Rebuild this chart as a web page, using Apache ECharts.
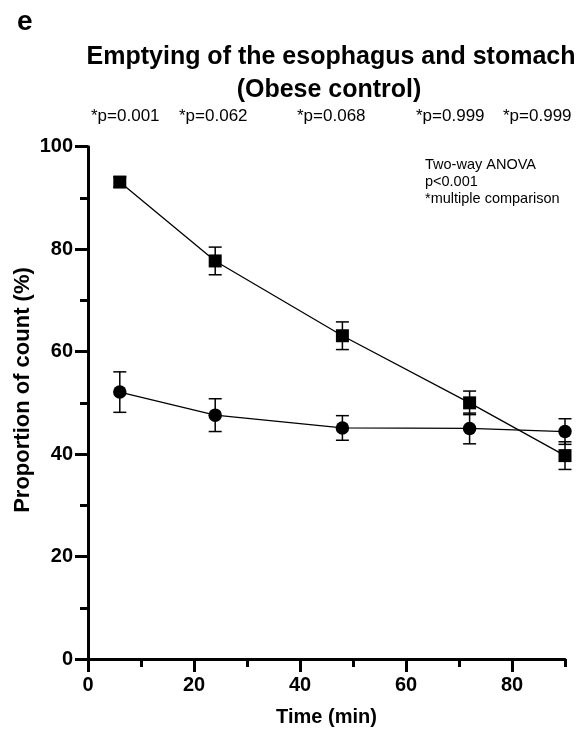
<!DOCTYPE html>
<html>
<head>
<meta charset="utf-8">
<script src="https://cdn.jsdelivr.net/npm/echarts@6/dist/echarts.min.js"></script>
<style>
html,body{margin:0;padding:0;background:#fff;}
#c{width:582px;height:732px;}
</style>
</head>
<body>
<div id="c"></div>
<script>
var timeMin = [6, 24, 48, 72, 90];
var squareMean = [93.1, 77.7, 63.1, 50.0, 39.7];
var squareErr = [1.0, 2.7, 2.7, 2.3, 2.7];
var circleMean = [52.1, 47.6, 45.1, 45.0, 44.4];
var circleErr = [3.95, 3.2, 2.4, 3.0, 2.5];
var pLabels = ['*p=0.001', '*p=0.062', '*p=0.068', '*p=0.999', '*p=0.999'];
var xTicks = [0, 20, 40, 60, 80];
var yTicks = [0, 20, 40, 60, 80, 100];

var FONT = "'Liberation Sans', Arial, Helvetica, sans-serif";
var chart = echarts.init(document.getElementById('c'), null, {renderer: 'canvas'});

function pts(means) { return timeMin.map(function (t, i) { return [t, means[i]]; }); }
function errData(means, errs) { return timeMin.map(function (t, i) { return [t, means[i], errs[i]]; }); }

function errRender(params, api) {
  var x = api.value(0), y = api.value(1), e = api.value(2);
  var top = api.coord([x, y + e]);
  var bot = api.coord([x, y - e]);
  var hw = 6.5;
  var st = {stroke: '#000', lineWidth: 1.5};
  return {
    type: 'group',
    children: [
      {type: 'line', shape: {x1: top[0], y1: top[1], x2: bot[0], y2: bot[1]}, style: st},
      {type: 'line', shape: {x1: top[0] - hw, y1: top[1], x2: top[0] + hw, y2: top[1]}, style: st},
      {type: 'line', shape: {x1: bot[0] - hw, y1: bot[1], x2: bot[0] + hw, y2: bot[1]}, style: st}
    ]
  };
}

var pX = [91, 179, 297, 416, 503];
var graphics = [
  {type: 'text', left: 17, top: 8, style: {text: 'e', font: 'bold 28px ' + FONT, fill: '#000'}},
  {type: 'text', x: 331, y: 57, style: {text: 'Emptying of the esophagus and stomach', font: 'bold 25px ' + FONT, fill: '#000', textAlign: 'center', textVerticalAlign: 'middle'}},
  {type: 'text', x: 329, y: 90, style: {text: '(Obese control)', font: 'bold 25px ' + FONT, fill: '#000', textAlign: 'center', textVerticalAlign: 'middle'}},
  {type: 'text', x: 23, y: 390, rotation: Math.PI / 2, style: {text: 'Proportion of count (%)', font: 'bold 22px ' + FONT, fill: '#000', textAlign: 'center', textVerticalAlign: 'middle'}},
  {type: 'text', x: 425, y: 165, style: {text: 'Two-way ANOVA', font: '14.5px ' + FONT, fill: '#000', textVerticalAlign: 'middle'}},
  {type: 'text', x: 425, y: 182, style: {text: 'p<0.001', font: '14.5px ' + FONT, fill: '#000', textVerticalAlign: 'middle'}},
  {type: 'text', x: 425, y: 198.5, style: {text: '*multiple comparison', font: '14.5px ' + FONT, fill: '#000', textVerticalAlign: 'middle'}}
];
pLabels.forEach(function (t, i) {
  graphics.push({type: 'text', x: pX[i], y: 116.5, style: {text: t, font: '17px ' + FONT, fill: '#000', textVerticalAlign: 'middle'}});
});

var axisLineStyle = {show: true, lineStyle: {color: '#000', width: 3}};
var option = {
  animation: false,
  backgroundColor: '#fff',
  grid: {left: 88, right: 17, top: 146.7, bottom: 70.7, containLabel: false},
  graphic: graphics,
  xAxis: [
    {
      type: 'value', min: 0, max: 90, interval: 10, position: 'bottom',
      axisLine: axisLineStyle,
      axisTick: {show: true, length: 8, lineStyle: {color: '#000', width: 3}},
      axisLabel: {show: false},
      splitLine: {show: false}
    },
    {
      type: 'value', min: 0, max: 90, interval: 20, position: 'bottom',
      axisLine: {show: false},
      axisTick: {show: true, length: 13, lineStyle: {color: '#000', width: 3}, customValues: xTicks},
      axisLabel: {show: true, margin: 16, color: '#000', fontFamily: FONT, fontWeight: 'bold', fontSize: 20,
        customValues: xTicks,
        formatter: function (v) { return xTicks.indexOf(v) >= 0 ? String(v) : ''; }},
      splitLine: {show: false},
      name: 'Time (min)', nameLocation: 'middle', nameGap: 48,
      nameTextStyle: {color: '#000', fontFamily: FONT, fontWeight: 'bold', fontSize: 20}
    }
  ],
  yAxis: [
    {
      type: 'value', min: 0, max: 100, interval: 10, position: 'left',
      axisLine: axisLineStyle,
      axisTick: {show: true, length: 8, lineStyle: {color: '#000', width: 3}},
      axisLabel: {show: false},
      splitLine: {show: false}
    },
    {
      type: 'value', min: 0, max: 100, interval: 20, position: 'left',
      axisLine: {show: false},
      axisTick: {show: true, length: 13, lineStyle: {color: '#000', width: 3}},
      axisLabel: {show: true, margin: 15, color: '#000', fontFamily: FONT, fontWeight: 'bold', fontSize: 20,
        formatter: function (v) { return yTicks.indexOf(v) >= 0 ? String(v) : ''; }},
      splitLine: {show: false}
    }
  ],
  series: [
    {
      type: 'custom', xAxisIndex: 0, yAxisIndex: 0, z: 2, clip: false,
      renderItem: errRender, data: errData(squareMean, squareErr)
    },
    {
      type: 'custom', xAxisIndex: 0, yAxisIndex: 0, z: 2, clip: false,
      renderItem: errRender, data: errData(circleMean, circleErr)
    },
    {
      type: 'line', name: 'Square', xAxisIndex: 0, yAxisIndex: 0, z: 3, clip: false,
      data: pts(squareMean), symbol: 'rect', symbolSize: 13,
      itemStyle: {color: '#000'}, lineStyle: {color: '#000', width: 1.3}
    },
    {
      type: 'line', name: 'Circle', xAxisIndex: 0, yAxisIndex: 0, z: 3, clip: false,
      data: pts(circleMean), symbol: 'circle', symbolSize: 13.5,
      itemStyle: {color: '#000'}, lineStyle: {color: '#000', width: 1.3}
    }
  ]
};
chart.setOption(option);
</script>
</body>
</html>
